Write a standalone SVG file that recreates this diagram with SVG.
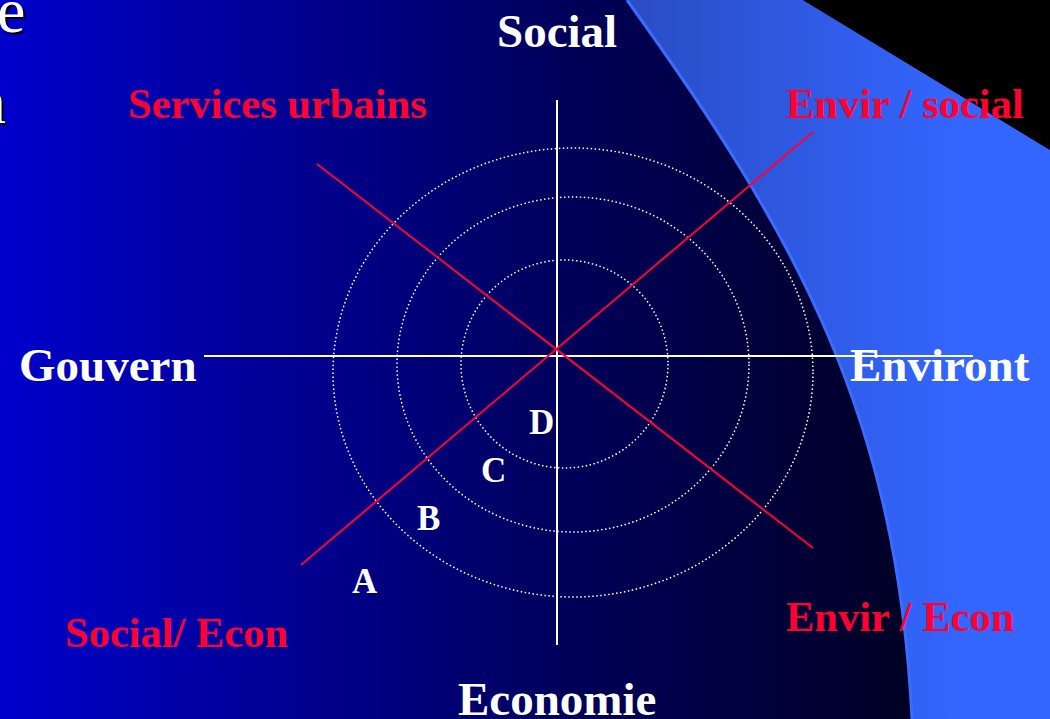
<svg xmlns="http://www.w3.org/2000/svg" width="1050" height="719" viewBox="0 0 1050 719">
  <defs>
    <linearGradient id="bg" x1="0" y1="0" x2="1050" y2="0" gradientUnits="userSpaceOnUse">
      <stop offset="0" stop-color="#0000CC"/>
      <stop offset="0.55" stop-color="#000058"/>
      <stop offset="1" stop-color="#000010"/>
    </linearGradient>
    <linearGradient id="wave" x1="627" y1="0" x2="960" y2="0" gradientUnits="userSpaceOnUse">
      <stop offset="0" stop-color="#2A4CC4"/>
      <stop offset="1" stop-color="#3366FF"/>
    </linearGradient>
    <style>
      .lbl { font-family: "Liberation Serif", "Times New Roman", serif; font-weight: bold; }
      .axis { fill: #FFFFFF; font-size: 47px; }
      .zone { fill: #FF0033; font-size: 42.5px; }
      .ring { fill: #FFFFFF; font-size: 35px; }
      .title { font-family: "Liberation Serif", "Times New Roman", serif; font-size: 64px; fill: #FFFFFF; }
      .shadow { font-family: "Liberation Serif", "Times New Roman", serif; font-size: 64px; fill: #000000; }
      .circ { fill: none; stroke: #FFFFFF; stroke-width: 1.5; stroke-dasharray: 1.5 2.5; }
      .redline { stroke: #FF0033; stroke-width: 2; }
      .whiteline { stroke: #FFFFFF; stroke-width: 2; }
    </style>
  </defs>

  <g id="background">
    <rect x="0" y="0" width="1050" height="719" fill="url(#bg)"/>
    <path d="M627,0 L803,0 L1050,150 L1050,719 L912,719 C897,419 800,240 627,0 Z" fill="url(#wave)"/>
    <path d="M627,0 C800,240 897,419 912,719" fill="none" stroke="#3A6CFF" stroke-width="3"/>
    <polygon points="803,0 1050,0 1050,150" fill="#000000"/>
  </g>

  <g id="title-fragment">
    <text class="shadow" x="-1" y="34">e</text>
    <text class="title" x="-3" y="32">e</text>
    <text class="shadow" x="-24" y="125">n</text>
    <text class="title" x="-26" y="123">n</text>
  </g>

  <g id="rings">
    <ellipse class="circ" cx="573" cy="372.5" rx="240" ry="224.5"/>
    <ellipse class="circ" cx="573" cy="364.5" rx="176" ry="167.5"/>
    <ellipse class="circ" cx="564.5" cy="364" rx="103.5" ry="104"/>
  </g>

  <g id="connectors">
    <line class="whiteline" x1="557" y1="100" x2="557" y2="645"/>
    <line class="whiteline" x1="204" y1="356" x2="973" y2="356"/>
    <line class="redline" x1="317" y1="164" x2="813" y2="548"/>
    <line class="redline" x1="301" y1="565" x2="813" y2="132"/>
  </g>

  <g id="node-social"><text class="lbl axis" x="497" y="47">Social</text></g>
  <g id="node-gouvern"><text class="lbl axis" x="19" y="381">Gouvern</text></g>
  <g id="node-environt"><text class="lbl axis" x="850" y="381">Environt</text></g>
  <g id="node-economie"><text class="lbl axis" x="458" y="715">Economie</text></g>

  <g id="node-services-urbains"><text class="lbl zone" x="128" y="118">Services urbains</text></g>
  <g id="node-envir-social"><text class="lbl zone" x="786" y="118">Envir / social</text></g>
  <g id="node-social-econ"><text class="lbl zone" x="65" y="647">Social/ Econ</text></g>
  <g id="node-envir-econ"><text class="lbl zone" x="786" y="631">Envir / Econ</text></g>

  <g id="node-a"><text class="lbl ring" x="352" y="593">A</text></g>
  <g id="node-b"><text class="lbl ring" x="417" y="530">B</text></g>
  <g id="node-c"><text class="lbl ring" x="481" y="482">C</text></g>
  <g id="node-d"><text class="lbl ring" x="529" y="434">D</text></g>
</svg>
